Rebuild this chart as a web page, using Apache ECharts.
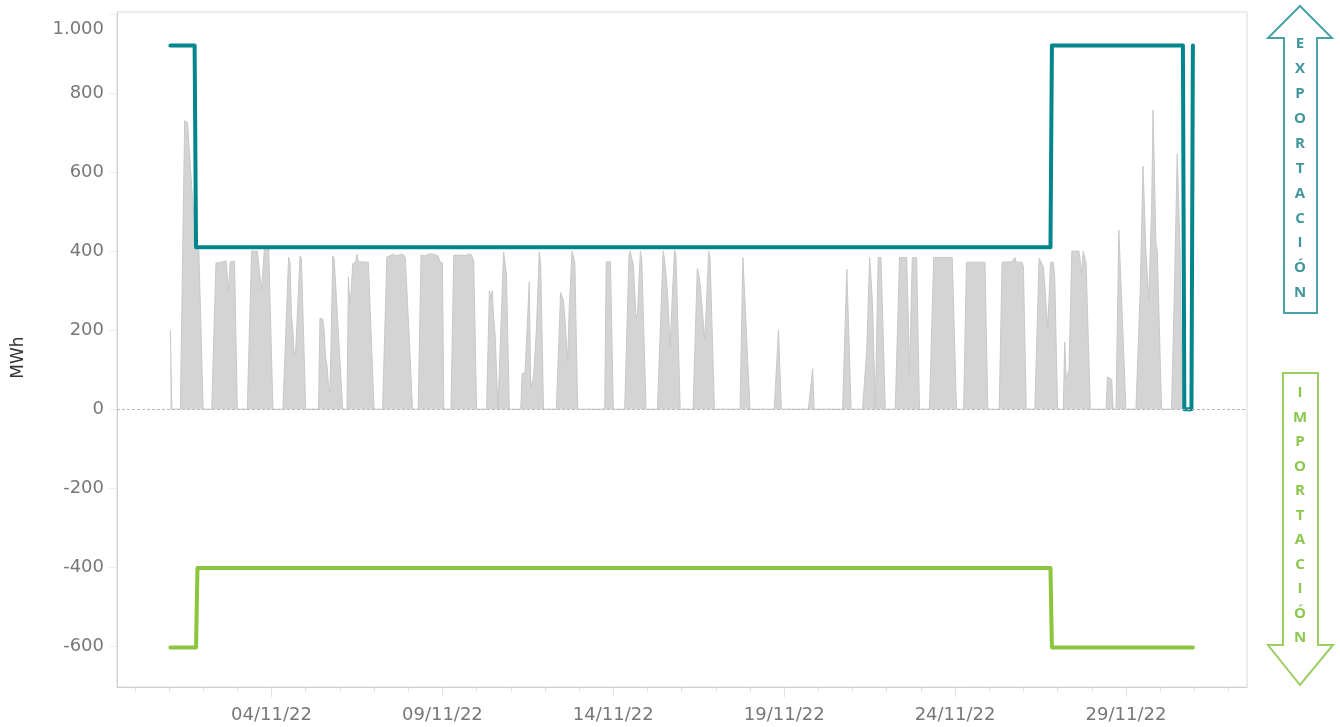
<!DOCTYPE html>
<html>
<head>
<meta charset="utf-8">
<script src="https://cdn.jsdelivr.net/npm/echarts@6/dist/echarts.min.js"></script>
<style>
  html, body { margin: 0; padding: 0; background: #ffffff; }
  #chart { width: 1340px; height: 727px; }
</style>
</head>
<body>
<div id="chart"></div>
<script>
// Hourly series, November 2022. Hours are counted from 01/11/2022 00:00.
const monthStart = new Date(2022, 10, 1).getTime();

// Net generation balance (MWh), [hour, value] at each change of slope
const balanceMWh = [
  [1,200],[2,0],[8,0],[11,730],[13,726],[14,722],[16,560],[19,420],[21,400],[24,0],
  [30,0],[33,370],[37,372],[40,375],[41,370],[42,300],[43,372],[44,368],[46,375],[47,378],[48,0],
  [55,0],[58,400],[62,400],[65,300],[67,405],[70,405],[73,0],
  [80,0],[84,385],[85,370],[86,240],[87,200],[88,133],[89,150],[92,388],[93,380],[96,0],
  [105,0],[106,230],[108,228],[109,200],[110,130],[111,110],[112,60],[113,45],[114,200],[115,388],[116,380],[122,0],
  [125,0],[126,335],[127,265],[128,300],[129,368],[131,372],[132,392],[133,373],[140,372],[141,368],[144,0],
  [150,0],[153,385],[155,388],[157,392],[158,392],[160,388],[163,392],[165,390],[166,380],[169,160],[171,0],
  [175,0],[177,390],[180,388],[183,393],[186,392],[189,388],[190,375],[192,370],[193,0],
  [198,0],[200,390],[201,385],[203,390],[206,390],[208,388],[210,392],[212,392],[213,385],[214,375],[216,0],
  [223,0],[225,300],[226,280],[227,300],[228,230],[229,190],[231,0],[232,0],[235,398],[236,370],[237,340],[239,0],
  [247,0],[248,90],[250,92],[253,322],[254,55],[256,80],[258,200],[260,398],[261,370],[263,0],
  [272,0],[275,295],[277,275],[278,230],[280,120],[281,250],[283,400],[284,395],[285,372],[287,0],
  [306,0],[307,373],[310,373],[312,0],
  [320,0],[323,390],[324,400],[325,380],[326,370],[328,230],[329,240],[331,400],[332,380],[335,0],
  [343,0],[347,400],[348,380],[349,375],[350,300],[352,155],[353,250],[355,402],[356,390],[359,0],
  [368,0],[371,356],[372,340],[373,315],[375,230],[376,175],[377,230],[379,400],[380,380],[383,0],
  [401,0],[403,384],[404,310],[405,305],[408,0],
  [425,0],[428,200],[430,0],
  [449,0],[452,102],[453,0],
  [473,0],[476,354],[477,354],[479,0],
  [487,0],[490,150],[492,384],[494,270],[496,0],[497,0],[498,384],[500,384],[503,0],
  [510,0],[513,384],[518,384],[519,250],[520,90],[521,95],[522,384],[525,384],[527,0],
  [534,0],[537,384],[550,384],[553,0],
  [558,0],[560,372],[573,372],[575,0],
  [583,0],[585,372],[592,373],[594,384],[595,372],[599,372],[600,360],[601,175],[602,0],
  [608,0],[611,382],[612,375],[613,372],[614,360],[616,260],[617,205],[618,280],[619,372],[621,372],[622,330],[624,0],
  [628,0],[629,170],[630,75],[632,100],[634,400],[639,400],[641,345],[642,400],[644,370],[647,0],
  [658,0],[659,82],[662,75],[663,0],
  [665,0],[667,453],[672,0],
  [679,0],[682,300],[684,615],[686,400],[688,276],[690,500],[691,757],[692,600],[693,420],[694,400],[697,0],
  [704,0],[706,300],[708,645],[710,400],[711,150],[712,0],
  [718,0],[719,372]
];

// Export capacity (MWh)
const exportCapacity = [
  [1,920],[18,920],[19,410],[619,410],[620,920],[712,920],[713,0],[718,0],[719,920]
];

// Import capacity (MWh)
const importCapacity = [
  [1,-603],[19,-603],[20,-402],[619,-402],[620,-603],[719,-603]
];

// Axis ticks
const yTickValues = [-600, -400, -200, 0, 200, 400, 600, 800, 1000];
const xLabelDays = ['04/11/22', '09/11/22', '14/11/22', '19/11/22', '24/11/22', '29/11/22'];
const exportLetters = ['E','X','P','O','R','T','A','C','I','Ó','N'];
const importLetters = ['I','M','P','O','R','T','A','C','I','Ó','N'];

// Day "dd/mm/yy" -> hours since the start of the month
const dayToHour = s => (Number(s.slice(0, 2)) - 1) * 24;
const labelHours = xLabelDays.map(dayToHour);
const dayTickHours = [];
for (let h = -24; h <= 31 * 24; h += 24) dayTickHours.push(h);

const xMin = -36.5;
const xMax = 757;

const pad2 = n => (n < 10 ? '0' : '') + n;
const fmtHour = h => {
  const d = new Date(monthStart + h * 3600 * 1000);
  return pad2(d.getDate()) + '/' + pad2(d.getMonth() + 1) + '/' + String(d.getFullYear()).slice(2);
};
const fmtNum = v => {
  const a = Math.abs(v);
  const s = a >= 1000 ? String(a).replace(/\B(?=(\d{3})+(?!\d))/g, '.') : String(a);
  return (v < 0 ? '-' : '') + s;
};

const FONT = '"DejaVu Sans", sans-serif';
const labelColor = '#787878';
const tealLine = '#00868c';
const greenLine = '#8cc63f';
const tealArrow = '#4aa1a7';
const greenArrow = '#9ccf62';

function arrowGraphics() {
  const g = [];
  g.push({
    type: 'polygon', silent: true,
    shape: { points: [[1300, 6], [1332, 38], [1317, 38], [1317, 313], [1284, 313], [1284, 38], [1268, 38]] },
    style: { fill: '#ffffff', stroke: tealArrow, lineWidth: 2 }
  });
  exportLetters.forEach((ch, i) => g.push({
    type: 'text', silent: true,
    style: { text: ch, x: 1300, y: 44 + 24.9 * i, fill: '#3f979d', font: 'bold 15px "Open Sans", sans-serif', align: 'center', verticalAlign: 'middle' }
  }));
  g.push({
    type: 'polygon', silent: true,
    shape: { points: [[1283, 373], [1318, 373], [1318, 645], [1333, 645], [1300, 685], [1268, 645], [1283, 645]] },
    style: { fill: '#ffffff', stroke: greenArrow, lineWidth: 2 }
  });
  importLetters.forEach((ch, i) => g.push({
    type: 'text', silent: true,
    style: { text: ch, x: 1300, y: 393 + 24.5 * i, fill: '#8cc84e', font: 'bold 15px "Open Sans", sans-serif', align: 'center', verticalAlign: 'middle' }
  }));
  return g;
}

const chart = echarts.init(document.getElementById('chart'), null, { renderer: 'canvas' });

chart.setOption({
  animation: false,
  backgroundColor: '#ffffff',
  grid: { left: 117, right: 93, top: 12, bottom: 40, show: true, borderColor: '#dadada', borderWidth: 1, backgroundColor: 'transparent' },
  xAxis: [
    {
      type: 'value', min: xMin, max: xMax,
      axisLine: { show: true, onZero: false, lineStyle: { color: '#d0d0d0', width: 1 } },
      axisTick: { show: true, customValues: dayTickHours, length: 5, lineStyle: { color: '#e3e3e3' } },
      axisLabel: { customValues: labelHours, formatter: fmtHour, color: labelColor, fontFamily: FONT, fontSize: 18, margin: 19 },
      splitLine: { show: false }
    },
    {
      type: 'value', min: xMin, max: xMax, position: 'bottom', gridIndex: 0,
      axisLine: { show: false, onZero: false },
      axisTick: { show: true, customValues: labelHours, length: 10, lineStyle: { color: '#e3e3e3' } },
      axisLabel: { show: false },
      splitLine: { show: false }
    }
  ],
  yAxis: {
    type: 'value', min: -703, max: 1005,
    name: 'MWh', nameLocation: 'middle', nameRotate: 90, nameGap: 90,
    nameTextStyle: { color: '#333333', fontFamily: FONT, fontSize: 17, padding: [0, 16, 0, 0] },
    axisLine: { show: true, onZero: false, lineStyle: { color: '#d0d0d0', width: 1 } },
    axisTick: { show: true, customValues: yTickValues, length: 8, lineStyle: { color: '#ececec' } },
    axisLabel: {
      customValues: yTickValues,
      color: labelColor, fontFamily: FONT, fontSize: 18, margin: 13,
      formatter: v => (v === 1000 ? '{top|' + fmtNum(v) + '}' : fmtNum(v)),
      rich: { top: { color: labelColor, fontFamily: FONT, fontSize: 18, padding: [30, 0, 0, 0] } }
    },
    splitLine: { show: false }
  },
  series: [
    {
      name: 'Balance', type: 'line', xAxisIndex: 0,
      data: balanceMWh,
      showSymbol: false, symbol: 'none', silent: true,
      lineStyle: { color: '#c9c9c9', width: 1 },
      areaStyle: { color: '#d4d4d4', opacity: 1 },
      z: 1,
      markLine: {
        silent: true, symbol: 'none', label: { show: false },
        lineStyle: { color: '#b9b9b9', type: [3, 2], width: 1 },
        data: [{ yAxis: 0 }]
      }
    },
    {
      name: 'Importación', type: 'line', xAxisIndex: 0,
      data: importCapacity,
      showSymbol: false, symbol: 'none', silent: true,
      lineStyle: { color: greenLine, width: 4, cap: 'round', join: 'round' },
      z: 3
    },
    {
      name: 'Exportación', type: 'line', xAxisIndex: 0,
      data: exportCapacity,
      showSymbol: false, symbol: 'none', silent: true,
      lineStyle: { color: tealLine, width: 4, cap: 'round', join: 'round' },
      z: 4
    }
  ],
  graphic: arrowGraphics()
});
</script>
</body>
</html>
